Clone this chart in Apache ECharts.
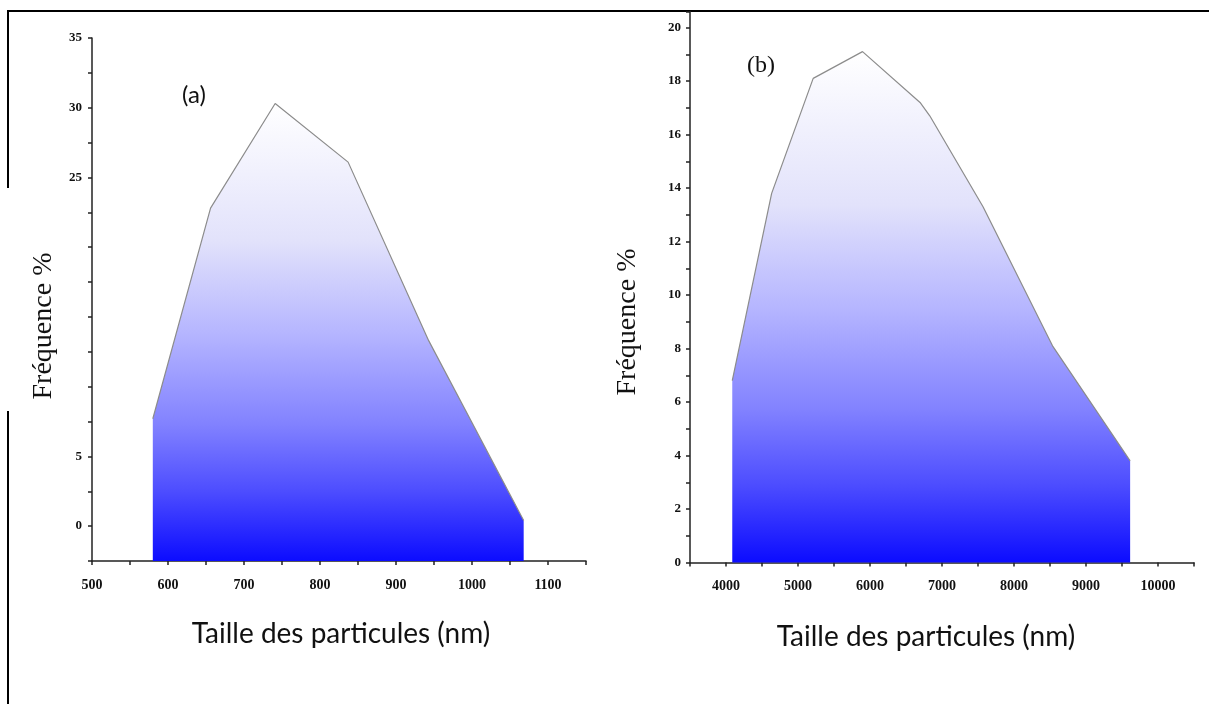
<!DOCTYPE html>
<html><head><meta charset="utf-8">
<script src="https://cdn.jsdelivr.net/npm/echarts@6/dist/echarts.min.js"></script>
<style>html,body{margin:0;padding:0;background:#fff}#c{width:1209px;height:704px}</style>
</head><body><div id="c"></div>
<script>
// ---- data ----
const sizeA = [580, 656, 741, 837, 943, 1068];
const freqA = [7.7, 22.8, 30.3, 26.1, 13.3, 0.4];
const sizeB = [4087, 4634, 5211, 5896, 6695, 6830, 7570, 8535, 9613];
const freqB = [6.8, 13.8, 18.1, 19.1, 17.2, 16.7, 13.3, 8.1, 3.8];

const xTickLabelsA = ['500', '600', '700', '800', '900', '1000', '1100'];
const yTickLabelsA = ['0', '5', '25', '30', '35'];
const xTickLabelsB = ['4000', '5000', '6000', '7000', '8000', '9000', '10000'];
const yTickLabelsB = ['0', '2', '4', '6', '8', '10', '12', '14', '16', '18', '20'];

const panelLabels = ['(a)', '(b)'];
const xTitle = 'Taille des particules (nm)';
const yTitle = 'Fréquence %';

// ---- build ----
const chart = echarts.init(document.getElementById('c'), null, {renderer: 'canvas'});

function pick(list) {
  return function (v) { const s = String(v); return list.indexOf(s) >= 0 ? s : ''; };
}
function axisCommon(labels, fontSize, margin) {
  return {
    splitLine: {show: false},
    axisLine: {show: true, onZero: false, lineStyle: {color: '#222', width: 1.5}},
    axisTick: {show: true, inside: false, length: 4, lineStyle: {color: '#222', width: 1.5}},
    axisLabel: {
      show: true, margin: margin, color: '#111', fontFamily: 'Liberation Serif',
      fontWeight: 'bold', fontSize: fontSize, formatter: pick(labels), hideOverlap: false
    }
  };
}
function pairs(xs, ys) { return xs.map((x, i) => [x, ys[i]]); }
function makeGrad() {
  return new echarts.graphic.LinearGradient(0, 0, 0, 1, [
    {offset: 0, color: '#ffffff'},
    {offset: 0.3, color: '#e2e2fb'},
    {offset: 0.5, color: '#b6b6ff'},
    {offset: 0.7, color: '#8282ff'},
    {offset: 0.85, color: '#4c4cff'},
    {offset: 1, color: '#0c0cff'}
  ]);
}

const option = {
  backgroundColor: '#ffffff',
  animation: false,
  grid: [
    {left: 92, top: 38, width: 494, height: 523, outerBoundsMode: 'none'},
    {left: 690, top: 11.5, width: 504, height: 551, outerBoundsMode: 'none'}
  ],
  xAxis: [
    Object.assign({type: 'value', gridIndex: 0, min: 500, max: 1150, interval: 50}, axisCommon(xTickLabelsA, 14, 17)),
    Object.assign({type: 'value', gridIndex: 1, min: 3500, max: 10500, interval: 500}, axisCommon(xTickLabelsB, 14, 17))
  ],
  yAxis: [
    Object.assign({type: 'value', gridIndex: 0, min: -2.5, max: 35, interval: 2.5}, axisCommon(yTickLabelsA, 13, 10)),
    Object.assign({type: 'value', gridIndex: 1, min: 0, max: 20.6, interval: 1}, axisCommon(yTickLabelsB, 13, 9))
  ],
  series: [
    {
      type: 'line', xAxisIndex: 0, yAxisIndex: 0, data: pairs(sizeA, freqA),
      symbol: 'none', lineStyle: {color: '#8c8c8c', width: 1.2},
      areaStyle: {origin: 'start', color: makeGrad(), opacity: 1}
    },
    {
      type: 'line', xAxisIndex: 1, yAxisIndex: 1, data: pairs(sizeB, freqB),
      symbol: 'none', lineStyle: {color: '#8c8c8c', width: 1.2},
      areaStyle: {origin: 'start', color: makeGrad(), opacity: 1}
    }
  ],
  graphic: [
    // frame fragments
    {type: 'line', shape: {x1: 8, y1: 11, x2: 1209, y2: 11}, style: {stroke: '#000', lineWidth: 2}},
    {type: 'line', shape: {x1: 8, y1: 10, x2: 8, y2: 188}, style: {stroke: '#000', lineWidth: 2}},
    {type: 'line', shape: {x1: 8, y1: 411, x2: 8, y2: 704}, style: {stroke: '#000', lineWidth: 2}},
    // panel labels
    {type: 'text', x: 194, y: 95, style: {text: panelLabels[0], font: '24px Lato', fill: '#111', align: 'center', verticalAlign: 'middle'}},
    {type: 'text', x: 761, y: 66, style: {text: panelLabels[1], font: '24px "Liberation Serif"', fill: '#111', align: 'center', verticalAlign: 'middle'}},
    // y titles
    {type: 'text', x: 44, y: 326, rotation: Math.PI / 2, style: {text: yTitle, font: '28px "Liberation Serif"', fill: '#111', align: 'center', verticalAlign: 'middle'}},
    {type: 'text', x: 628, y: 322, rotation: Math.PI / 2, style: {text: yTitle, font: '28px "Liberation Serif"', fill: '#111', align: 'center', verticalAlign: 'middle'}},
    // x titles
    {type: 'text', x: 341, y: 634, style: {text: xTitle, font: '28px Lato', fill: '#111', align: 'center', verticalAlign: 'middle'}},
    {type: 'text', x: 926, y: 637, style: {text: xTitle, font: '28px Lato', fill: '#111', align: 'center', verticalAlign: 'middle'}}
  ]
};
chart.setOption(option);
</script>
</body></html>
